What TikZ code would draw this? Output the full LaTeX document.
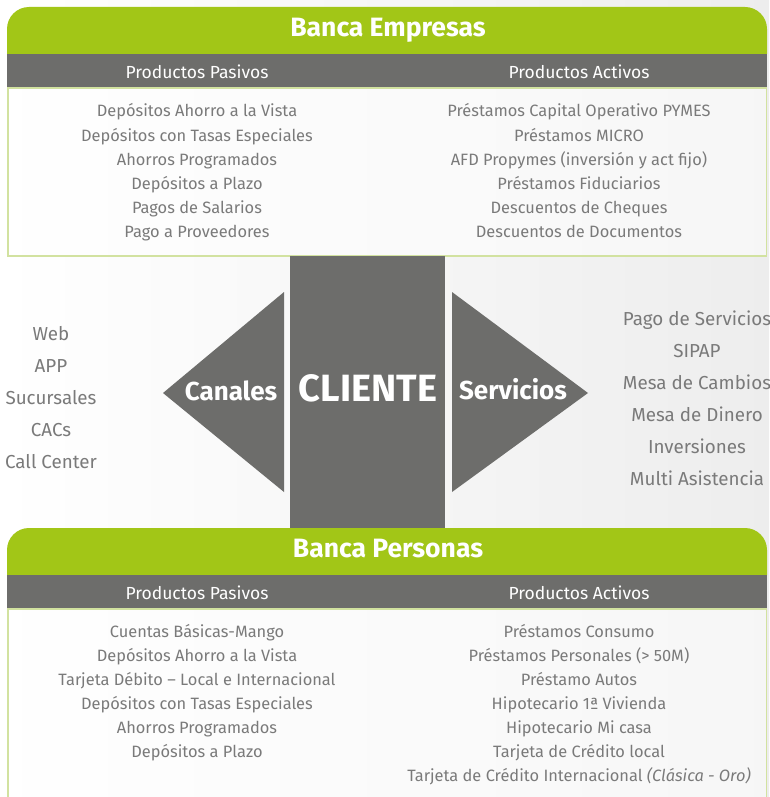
\documentclass[tikz,border=0pt]{standalone}
\usepackage{fontspec}
\setmainfont{Fira Sans}
\definecolor{lime}{HTML}{A2C617}
\definecolor{slate}{HTML}{6D6D6B}
\definecolor{txt}{HTML}{7A7A7A}
\definecolor{edge}{HTML}{D2E2A0}
\begin{document}
\begin{tikzpicture}[x=1pt,y=-1pt,
  fixed/.style={inner sep=0pt,anchor=base},
  title/.style={fixed,text=white,font=\fontsize{26.5}{28}\selectfont\bfseries},
  colhead/.style={fixed,text=white,font=\fontsize{17.5}{20}\selectfont},
  item/.style={fixed,text=txt,font=\fontsize{16.4}{18}\selectfont},
  side/.style={fixed,text=txt,font=\fontsize{18.8}{21}\selectfont},
  arrowlabel/.style={fixed,text=white,font=\fontsize{26}{28}\selectfont\bfseries},
  greenhead/.style={fill=lime},
  bar/.style={fill=slate},
  panel/.style={draw=edge,line width=1.5pt,fill=white,fill opacity=0.55}]
\useasboundingbox (0,0) rectangle (769,797);
\shade[left color=white,right color=black!7] (0,0) rectangle (769,797);
\clip (0,0) rectangle (769,797);

% ---------- Banca Empresas ----------
\fill[greenhead] (7,54) [rounded corners=22pt] -- (7,7) -- (767,7) [sharp corners] -- (767,54) -- cycle;
\fill[bar] (7,54) rectangle (767,88);
\draw[panel] (7.75,88) rectangle (766.25,256);
\node[title] (be) at (388,37) {Banca Empresas};
\node[colhead] (bep) at (197,79) {Productos Pasivos};
\node[colhead] (bea) at (579,79) {Productos Activos};
\foreach \t [count=\i] in {Depósitos Ahorro a la Vista,Depósitos con Tasas Especiales,Ahorros Programados,Depósitos a Plazo,Pagos de Salarios,Pago a Proveedores}
  \node[item] (bep\i) at (197,93+24*\i) {\t};
\foreach \t [count=\i] in {Préstamos Capital Operativo PYMES,Préstamos MICRO,AFD Propymes (inversión y act fijo),Préstamos Fiduciarios,Descuentos de Cheques,Descuentos de Documentos}
  \node[item] (bea\i) at (579,93+24*\i) {\t};

% ---------- central column and arrows ----------
\fill[bar] (290,256) rectangle (445,528);
\coordinate (cl1) at (284,292);
\coordinate (cl2) at (284,492);
\coordinate (clt) at (163,393);
\coordinate (cr1) at (452,292);
\coordinate (cr2) at (452,492);
\coordinate (crt) at (588,393);
\fill[slate] (cl1) -- (clt) -- (cl2) -- cycle;
\fill[slate] (cr1) -- (crt) -- (cr2) -- cycle;
\node[fixed,text=white,font=\fontsize{38}{42}\selectfont\bfseries] (cliente) at (368,401.5) {CLIENTE};
\node[arrowlabel] (canales) at (231,400) {Canales};
\node[arrowlabel] (servicios) at (513,399) {Servicios};

\foreach \t [count=\i] in {Web,APP,Sucursales,CACs,Call Center}
  \node[side] (ch\i) at (51,308.5+32*\i) {\t};
\foreach \t [count=\i] in {Pago de Servicios,SIPAP,Mesa de Cambios,Mesa de Dinero,Inversiones,Multi Asistencia}
  \node[side] (sv\i) at (697,293+32*\i) {\t};

% ---------- Banca Personas ----------
\fill[greenhead] (7,575) [rounded corners=22pt] -- (7,528) -- (767,528) [sharp corners] -- (767,575) -- cycle;
\fill[bar] (7,575) rectangle (767,609);
\draw[panel] (7.75,609) rectangle (766.25,820);
\node[title] (bp) at (388,557) {Banca Personas};
\node[colhead] (bpp) at (197,599) {Productos Pasivos};
\node[colhead] (bpa) at (579,599) {Productos Activos};
\foreach \t [count=\i] in {Cuentas Básicas-Mango,Depósitos Ahorro a la Vista,Tarjeta Débito – Local e Internacional,Depósitos con Tasas Especiales,Ahorros Programados,Depósitos a Plazo}
  \node[item] (bpp\i) at (197,613+24*\i) {\t};
\foreach \t [count=\i] in {Préstamos Consumo,Préstamos Personales (> 50M),Préstamo Autos,Hipotecario 1ª Vivienda,Hipotecario Mi casa,Tarjeta de Crédito local,{Tarjeta de Crédito Internacional \textit{(Clásica - Oro)}}}
  \node[item] (bpa\i) at (579,613+24*\i) {\t};
\end{tikzpicture}
\end{document}
